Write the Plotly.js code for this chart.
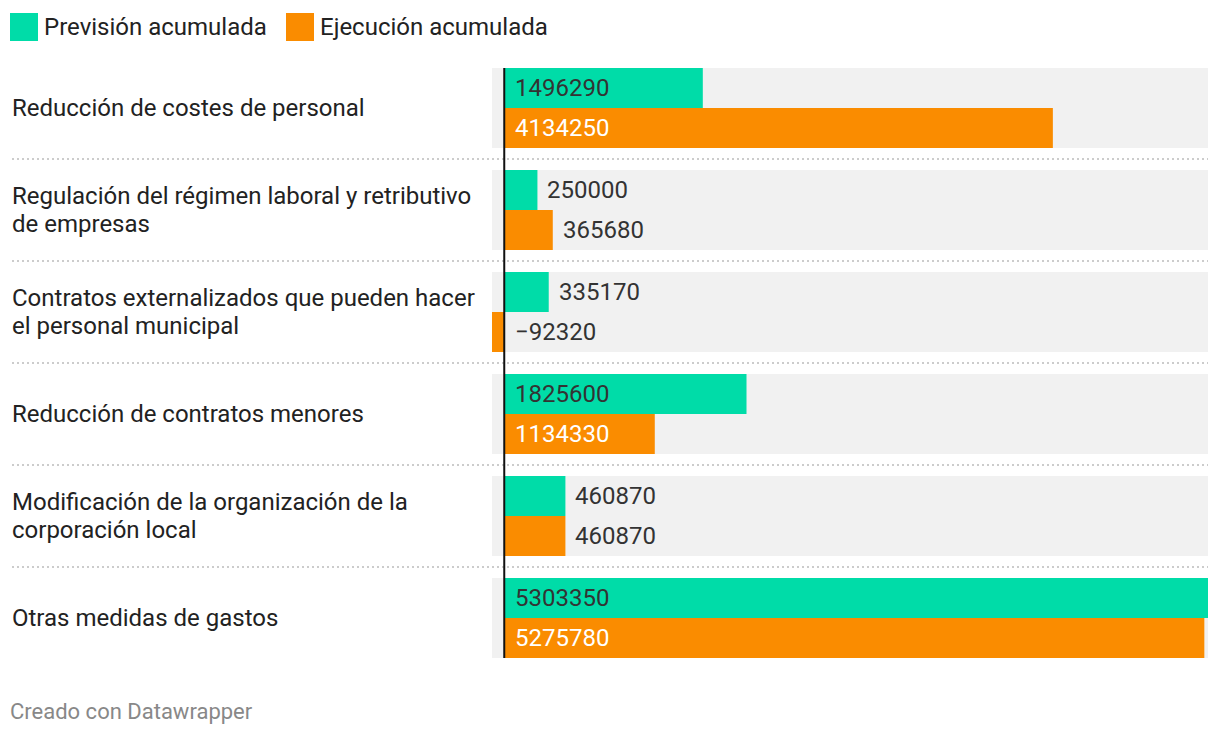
<!DOCTYPE html>
<html><head><meta charset="utf-8">
<script src="https://cdn.plot.ly/plotly-3.0.1.min.js"></script>
<style>html,body{margin:0;padding:0;background:#fff}#c{width:1220px;height:736px}</style>
</head><body><div id="c"></div>
<script>
const categories = [
  "Reducción de costes de personal",
  "Regulación del régimen laboral y retributivo<br>de empresas",
  "Contratos externalizados que pueden hacer<br>el personal municipal",
  "Reducción de contratos menores",
  "Modificación de la organización de la<br>corporación local",
  "Otras medidas de gastos"
];
const seriesNames = ["Previsión acumulada", "Ejecución acumulada"];
const prevision = [1496290, 250000, 335170, 1825600, 460870, 5303350];
const ejecucion = [4134250, 365680, -92320, 1134330, 460870, 5275780];
const colors = ["#00dca8", "#fa8c00"];
const xMin = -92320, xMax = 5303350;

// layout geometry (pixels)
const W = 1220, H = 736;
const L = 492, R = 12, T = 57, B = 67;
const plotW = W - L - R, plotH = H - T - B;
const px2x = p => (p - L) / plotW;
const py2y = p => (H - B - p) / plotH;
const pxPerUnit = plotW / (xMax - xMin);
const font = "Roboto, 'Noto Sans', sans-serif";
const lineH = 28;

const idx = categories.map((_, i) => i);
const traces = [prevision, ejecucion].map((vals, k) => ({
  type: "bar", orientation: "h", x: vals, y: idx, name: seriesNames[k],
  marker: {color: colors[k], line: {width: 0}}, showlegend: false, hoverinfo: "skip"
}));

const shapes = [];
const annotations = [];
const half = 40 / 102;
categories.forEach((c, i) => {
  shapes.push({type: "rect", xref: "paper", yref: "y", x0: 0, x1: 1, y0: i - half, y1: i + half,
    fillcolor: "#f1f1f1", line: {width: 0}, layer: "below"});
  if (i < categories.length - 1) {
    shapes.push({type: "line", xref: "paper", yref: "y", x0: px2x(12), x1: 1, y0: i + 0.5, y1: i + 0.5,
      line: {color: "#cccccc", width: 2, dash: "2px,3px"}});
  }
  const lines = c.split("<br>");
  lines.forEach((ln, j) => {
    annotations.push({xref: "paper", yref: "y", x: px2x(10), y: i, xanchor: "left", yanchor: "middle",
      yshift: ((lines.length - 1) / 2 - j) * lineH,
      align: "left", text: ln, showarrow: false, font: {family: font, size: 24, color: "#222"}});
  });
});
shapes.push({type: "line", xref: "x", yref: "y", x0: 0, x1: 0, y0: -half, y1: categories.length - 1 + half,
  line: {color: "#111", width: 2}});

[prevision, ejecucion].forEach((vals, k) => {
  vals.forEach((v, i) => {
    const label = (v < 0 ? "\u2212" : "") + Math.abs(v);
    const barPx = Math.abs(v) * pxPerUnit;
    const labelPx = label.length * 13.3;
    const inside = v > 0 && barPx > labelPx + 24;
    annotations.push({xref: "x", yref: "y", x: inside || v < 0 ? 0 : v, y: i,
      xshift: inside || v < 0 ? 9 : 8, yshift: k === 0 ? 20 : -20,
      xanchor: "left", yanchor: "middle", text: label, showarrow: false,
      font: {family: font, size: 24, color: inside && k === 1 ? "#ffffff" : "#333333"}});
  });
});

// legend
const legendX = [10, 286];
seriesNames.forEach((n, k) => {
  shapes.push({type: "rect", xref: "paper", yref: "paper", x0: px2x(legendX[k]), x1: px2x(legendX[k] + 28),
    y0: py2y(41), y1: py2y(13), fillcolor: colors[k], line: {width: 0}});
  annotations.push({xref: "paper", yref: "paper", x: px2x(legendX[k] + 32), y: py2y(27),
    xanchor: "left", yanchor: "middle", text: n, showarrow: false,
    font: {family: font, size: 24, color: "#222"}});
});
annotations.push({xref: "paper", yref: "paper", x: px2x(8), y: py2y(711), xanchor: "left", yanchor: "middle",
  text: "Creado con Datawrapper", showarrow: false, font: {family: font, size: 22, color: "#888"}});

const layout = {
  width: W, height: H, margin: {l: L, r: R, t: T, b: B, pad: 0},
  paper_bgcolor: "#fff", plot_bgcolor: "rgba(0,0,0,0)",
  barmode: "group", bargap: 22 / 102, bargroupgap: 0,
  xaxis: {range: [xMin, xMax], showgrid: false, zeroline: false, showticklabels: false, ticks: "", fixedrange: true},
  yaxis: {range: [categories.length - 0.5, -0.5], showgrid: false, zeroline: false, showticklabels: false, ticks: "", fixedrange: true},
  shapes, annotations, showlegend: false
};
Plotly.newPlot("c", traces, layout, {displayModeBar: false, staticPlot: true});
</script></body></html>
